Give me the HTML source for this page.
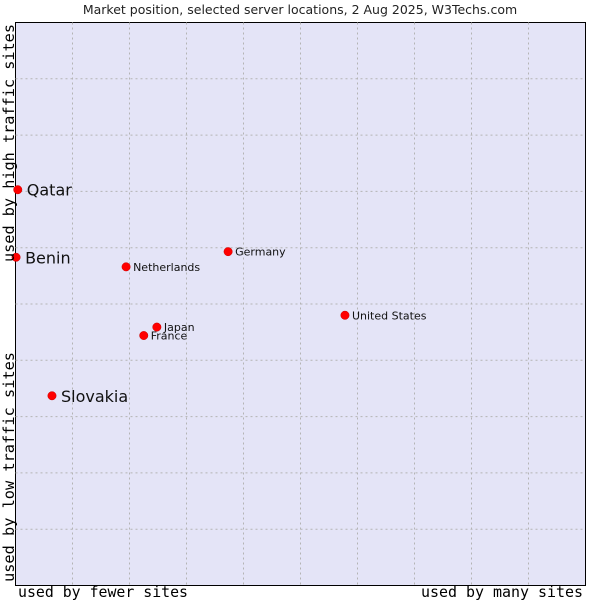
<!DOCTYPE html>
<html><head><meta charset="utf-8"><style>
body{margin:0;background:#fff;width:600px;height:600px;overflow:hidden}
svg{font-family:"DejaVu Sans","Liberation Sans",sans-serif}
</style></head><body>
<svg id="chart" width="600" height="600">
<text x="300" y="14" text-anchor="middle" font-size="12.5" fill="#222">Market position, selected server locations, 2 Aug 2025, W3Techs.com</text>
<rect x="15.5" y="22.5" width="570" height="563" fill="#e4e4f7" stroke="#000" stroke-width="1"/>
<g id="grid"></g>
<g id="points"></g>
<text x="18" y="597" textLength="170" lengthAdjust="spacingAndGlyphs" font-family="DejaVu Sans Mono,Liberation Mono,monospace" font-size="15" fill="#000">used by fewer sites</text>
<text x="421" y="597" textLength="162" lengthAdjust="spacingAndGlyphs" font-family="DejaVu Sans Mono,Liberation Mono,monospace" font-size="15" fill="#000">used by many sites</text>
<text transform="translate(14,582) rotate(-90)" textLength="230" lengthAdjust="spacingAndGlyphs" font-family="DejaVu Sans Mono,Liberation Mono,monospace" font-size="15" fill="#000">used by low traffic sites</text>
<text transform="translate(14,24) rotate(-90)" text-anchor="end" textLength="238" lengthAdjust="spacingAndGlyphs" font-family="DejaVu Sans Mono,Liberation Mono,monospace" font-size="15" fill="#000">used by high traffic sites</text>
</svg>
<script>
const countries=["Qatar","Benin","Slovakia","Netherlands","Germany","Japan","France","United States"];
const xValues=[0.4,0.1,6.4,19.4,37.3,24.8,22.5,57.8];
const yValues=[70.3,58.3,33.7,56.6,59.3,45.9,44.4,48.0];
const highlighted=[true,true,true,false,false,false,false,false];
const L=15.5,R=585.5,T=22.5,B=585.5;
const sx=v=>L+v/100*(R-L), sy=v=>B-v/100*(B-T);
const ns="http://www.w3.org/2000/svg";
const g=document.getElementById('grid');
for(let i=1;i<10;i++){
 let v=document.createElementNS(ns,'line');
 
 
 v.setAttribute('x1',sx(i*10));v.setAttribute('x2',sx(i*10));v.setAttribute('y1',T);v.setAttribute('y2',B);
 v.setAttribute('stroke','#b4b4b4');v.setAttribute('stroke-dasharray','2,3');g.appendChild(v);
 let h=document.createElementNS(ns,'line');
 
 
 h.setAttribute('y1',sy(i*10));h.setAttribute('y2',sy(i*10));h.setAttribute('x1',L);h.setAttribute('x2',R);
 h.setAttribute('stroke','#b4b4b4');h.setAttribute('stroke-dasharray','2,3');g.appendChild(h);
}
const p=document.getElementById('points');
countries.forEach((c,i)=>{
 const x=sx(xValues[i]),y=sy(yValues[i]);
 const d=document.createElementNS(ns,'circle');
 
 
 d.setAttribute('cx',x);d.setAttribute('cy',y);d.setAttribute('r',4.2);
 d.setAttribute('fill','#f00');d.setAttribute('stroke','#c00');d.setAttribute('stroke-width','0.5');
 p.appendChild(d);
 const t=document.createElementNS(ns,'text');
 
 
 t.setAttribute('x',x+(highlighted[i]?9:7));
 t.setAttribute('y',y+(highlighted[i]?6:4));
 t.setAttribute('font-size',highlighted[i]?16:11);
 t.setAttribute('fill','#111');
 t.textContent=c;p.appendChild(t);
});
</script>
</body></html>
